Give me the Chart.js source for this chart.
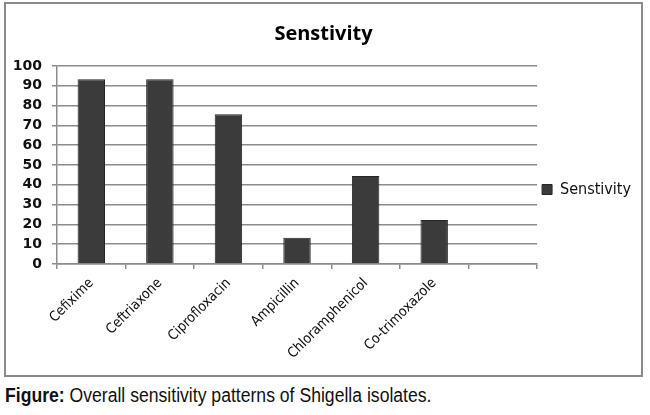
<!DOCTYPE html>
<html>
<head>
<meta charset="utf-8">
<script src="https://cdn.jsdelivr.net/npm/chart.js@4"></script>
<style>
  html, body { margin: 0; padding: 0; background: #fff; }
  body { width: 650px; height: 415px; position: relative; overflow: hidden; }
  #frame {
    position: absolute; left: 4px; top: 2px; width: 635px; height: 371px;
    border: 2px solid #8a8a8a;
  }
  #caption {
    position: absolute; left: 5px; top: 384px;
    font-family: "Liberation Sans", sans-serif;
    font-size: 20px; color: #111; white-space: nowrap;
    transform: scaleX(0.88); transform-origin: left top;
  }
  #caption b { font-weight: bold; }
</style>
</head>
<body>
<div id="frame"><canvas id="myChart"></canvas></div>
<div id="caption"><b>Figure:</b> Overall sensitivity patterns of Shigella isolates.</div>
<script>
const drugs = ['Cefixime', 'Ceftriaxone', 'Ciprofloxacin', 'Ampicillin', 'Chloramphenicol', 'Co-trimoxazole', '']
const sensitivity = [93.3, 93.3, 75.6, 13.3, 44.4, 22.2, null]
const yTicks = [0, 10, 20, 30, 40, 50, 60, 70, 80, 90, 100]

const gridGray = '#8c8c8c'
const narrow = 'DejaVu Sans Condensed'

const ctx = document.getElementById('myChart')

const dataset = {
  labels: drugs,
  datasets: [{
    label: 'Senstivity',
    data: sensitivity,
    backgroundColor: '#3b3b3b',
    borderColor: '#262626',
    borderWidth: 1,
    barPercentage: 0.4,
    categoryPercentage: 1
  }]
}

const config = {
  type: 'bar',
  data: dataset,
  options: {
    responsive: true,
    maintainAspectRatio: false,
    animation: false,
    layout: { padding: { left: 0, right: 0, top: 0, bottom: 0 } },
    plugins: {
      title: {
        display: true,
        text: 'Senstivity',
        color: '#000',
        font: { family: 'Open Sans', size: 20, weight: 'bold' },
        padding: { top: 18, bottom: 20 }
      },
      legend: {
        position: 'right',
        labels: {
          boxWidth: 10,
          boxHeight: 10,
          color: '#111',
          padding: 5,
          font: { family: narrow, size: 16 }
        }
      },
      tooltip: { enabled: false }
    },
    scales: {
      x: {
        afterFit: (scale) => { scale.height = 111 },
        grid: {
          offset: true,
          drawOnChartArea: false,
          drawTicks: true,
          tickLength: 5,
          color: gridGray,
          lineWidth: 1.5
        },
        border: { color: gridGray, width: 1.5 },
        ticks: {
          maxRotation: 45,
          minRotation: 45,
          autoSkip: false,
          color: '#111',
          padding: 6,
          font: { family: narrow, size: 14 }
        }
      },
      y: {
        min: 0,
        max: 100,
        afterFit: (scale) => { scale.width = 51 },
        afterBuildTicks: (scale) => { scale.ticks = yTicks.map(v => ({ value: v })) },
        grid: {
          color: gridGray,
          lineWidth: 1.5,
          tickLength: 5
        },
        border: { color: gridGray, width: 1.5 },
        ticks: {
          color: '#111',
          padding: 10,
          font: { family: 'DejaVu Sans', size: 14, weight: 'bold' }
        }
      }
    }
  }
}

const chart = new Chart(ctx, config)
</script>
</body>
</html>
